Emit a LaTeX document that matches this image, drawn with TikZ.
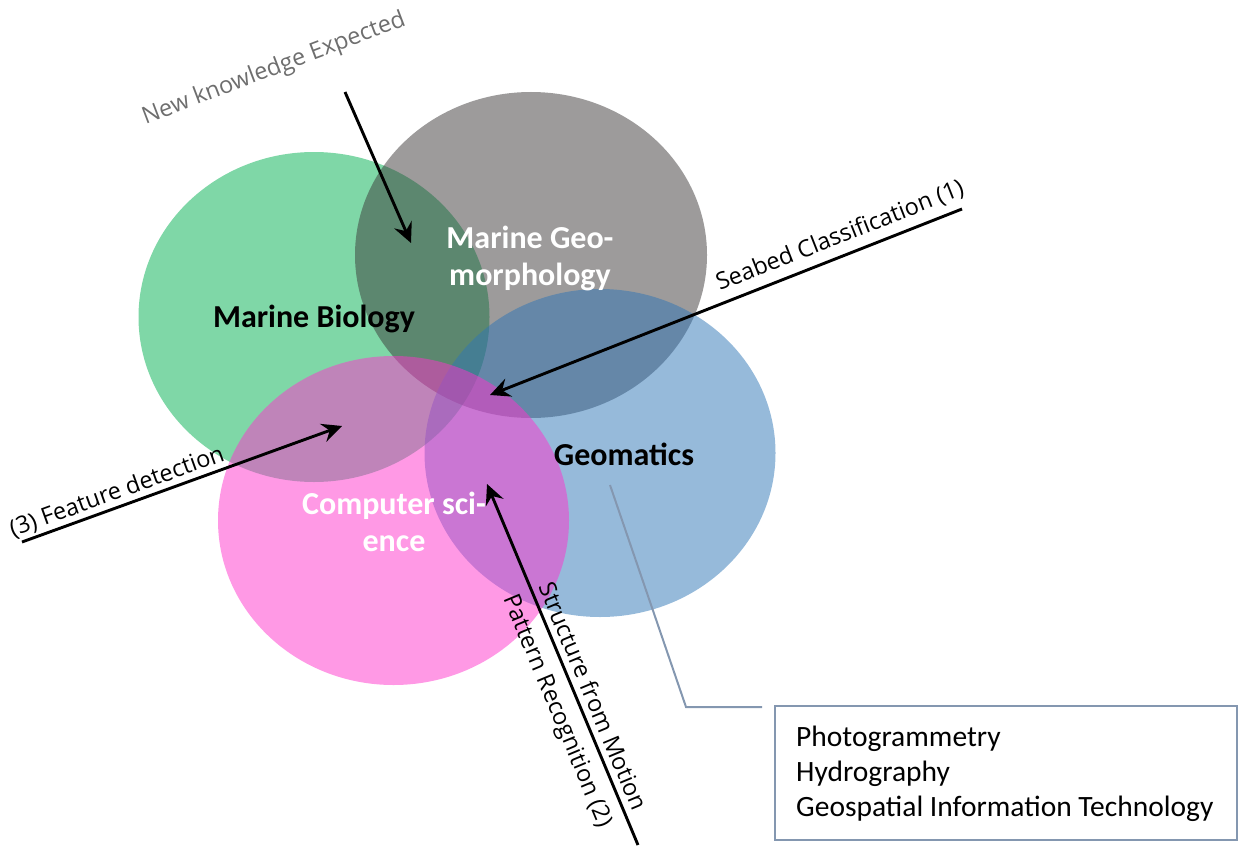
\documentclass[tikz,border=0pt]{standalone}
\usepackage{fontspec}
\setmainfont{Carlito}
\newfontfamily\segoe{Open Sans}
\usetikzlibrary{arrows.meta}
\definecolor{cgreen}{HTML}{00B050}
\definecolor{cgray}{HTML}{3B3838}
\definecolor{cblue}{HTML}{2E75B6}
\definecolor{cpink}{HTML}{FF33CC}
\definecolor{callout}{HTML}{8497B0}
\definecolor{labgray}{HTML}{6E6E6E}
\tikzset{
  blob/.style={fill opacity=0.5, draw=none},
  bigarrow/.style={line width=2.9pt, -{Stealth[length=20pt,width=19pt,inset=7pt]}},
  title/.style={font=\fontsize{32}{37}\selectfont\bfseries, align=center},
  lab/.style={font=\segoe\fontsize{23.5}{37}\selectfont, inner sep=0pt},
}
\begin{document}
\begin{tikzpicture}[x=1pt,y=-1pt]
\useasboundingbox (0,0) rectangle (1238,848);
% circles
\fill[cgreen, blob] (314,317) ellipse [x radius=175.5pt, y radius=165pt];
\fill[cgray, blob] (531,255) ellipse [x radius=176pt, y radius=163pt];
\fill[cblue, blob] (600,453) ellipse [x radius=175.5pt, y radius=164pt];
\fill[cpink, blob] (393.5,520.5) ellipse [x radius=175.5pt, y radius=164.5pt];
% titles
\node[title, text=black] (mb) at (314,319) {Marine Biology};
\node[title, text=white] (mg) at (530,258) {Marine Geo-\\morphology};
\node[title, text=black] (ge) at (624,454) {Geomatics};
\node[title, text=white] (cs) at (394,522) {Computer sci-\\ence};
% arrows
\coordinate (nkS) at (345,92);
\coordinate (nkE) at (411,243);
\draw[bigarrow] (nkS) -- (nkE);
\node[lab, text=labgray, rotate=20.8] (nk) at (274,69) {New knowledge Expected};

\coordinate (sbS) at (962,209);
\coordinate (sbE) at (490,395);
\draw[bigarrow] (sbS) -- (sbE);
\node[lab, rotate=21.5] (sb) at (840,236) {Seabed Classification (1)};

\coordinate (fdS) at (22,542);
\coordinate (fdE) at (342,426);
\draw[bigarrow] (fdS) -- (fdE);
\node[lab, rotate=19.9] (fd) at (117,492) {(3) Feature detection};

\coordinate (sfS) at (638,845);
\coordinate (sfE) at (487,484);
\draw[bigarrow] (sfS) -- (sfE);
\node[lab, rotate=-67.3, align=center] (sf) at (574,704) {Structure from Motion\\Pattern Recognition (2)};

% callout
\node[draw=callout, line width=2pt, minimum width=462pt, minimum height=134pt, inner sep=0pt] (box) at (1006,773) {};
\node[font=\fontsize{29.5}{35}\selectfont, align=left, anchor=west, inner sep=0pt] (boxt) at (796,774) {Photogrammetry\\Hydrography\\Geospatial Information Technology};
\coordinate (cA) at (610,485);
\coordinate (cB) at (686,707);
\coordinate (cC) at (762,707);
\draw[callout, line width=2pt] (cA) -- (cB) -- (cC);
\end{tikzpicture}
\end{document}
